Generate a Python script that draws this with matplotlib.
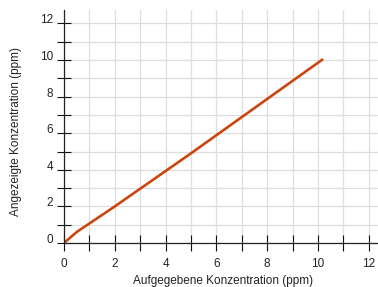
import matplotlib
matplotlib.use("Agg")
import matplotlib.pyplot as plt
import numpy as np

plt.rcParams['font.family'] = ['Liberation Sans', 'DejaVu Sans']

# Aufgegebene vs. angezeigte Konzentration (ppm)
given = [0, 0.5, 2, 5, 10.2]
shown = [0, 0.6, 2.0, 4.9, 10.05]

xticks = np.arange(0, 13, 1)
yticks = np.arange(0, 13, 1)
xlabels = [str(v) if v % 2 == 0 else '' for v in xticks]
ylabels = [str(v) if v % 2 == 0 else '' for v in yticks]

fig = plt.figure(figsize=(3.78, 2.87), dpi=100)
ax = fig.add_axes([64/378, 44/287, 314/378, 233/287])

ax.plot(given, shown, color='#c9460f', linewidth=1.9, solid_capstyle='butt', zorder=3)

ax.set_xlim(0, 314/25.4)
ax.set_ylim(0, 233/18.3)
ax.set_xticks(xticks)
ax.set_xticklabels(xlabels)
ax.set_yticks(yticks)
ax.set_yticklabels(ylabels)

ax.grid(True, color='#dddddd', linewidth=0.9)
ax.set_axisbelow(True)

ax.spines['right'].set_color('none')
ax.spines['top'].set_color('none')
ax.spines['left'].set_color('#222222')
ax.spines['bottom'].set_color('#222222')
ax.spines['left'].set_linewidth(0.9)
ax.spines['bottom'].set_linewidth(0.9)
ax.spines['left'].set_zorder(4)
ax.spines['bottom'].set_zorder(4)

ax.tick_params(axis='x', direction='inout', length=11, width=0.8, color='#111111',
               labelsize=8.5, labelcolor='#222222', pad=5)
ax.tick_params(axis='y', direction='inout', length=10, width=0.8, color='#111111',
               labelsize=8.5, labelcolor='#222222', pad=3)
for t in ax.get_yticklabels():
    t.set_va('baseline')

ax.set_xlabel('Aufgegebene Konzentration (ppm)', fontsize=8.5, color='#222222')
ax.xaxis.set_label_coords(0.507, -0.138)
ax.set_ylabel('Angezeigte Konzentration (ppm)', fontsize=8.5, color='#222222')
ax.yaxis.set_label_coords(-0.135, 0.48)

fig.savefig('out.png', dpi=100)
